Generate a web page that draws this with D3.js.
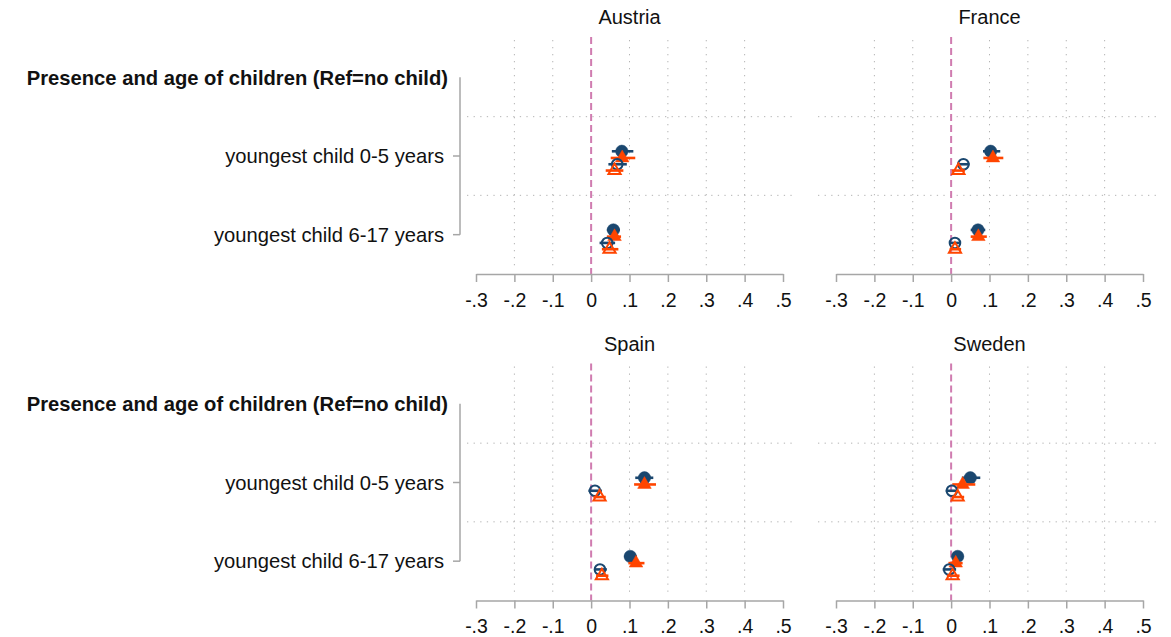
<!DOCTYPE html>
<html>
<head>
<meta charset="utf-8">
<script src="https://cdn.jsdelivr.net/npm/d3@7/dist/d3.min.js"></script>
<style>
  html, body { margin: 0; padding: 0; background: #fff; }
  svg { display: block; font-family: "Liberation Sans", Arial, Helvetica, sans-serif; }
</style>
</head>
<body>
<svg id="chart" width="1171" height="637"></svg>
<script>
// ---------- data ----------
const countries = ["Austria", "France", "Spain", "Sweden"];
const categories = ["Presence and age of children (Ref=no child)", "youngest child 0-5 years", "youngest child 6-17 years"];
const xTicks = [-0.3, -0.2, -0.1, 0, 0.1, 0.2, 0.3, 0.4, 0.5];
const xTickLabels = ["-.3", "-.2", "-.1", "0", ".1", ".2", ".3", ".4", ".5"];
const seriesNames = ["model 1", "model 2", "model 3", "model 4"];

// estimates [country][series] -> values for categories 1 and 2 (0-5, 6-17)
const est = {
  Austria: [[0.080, 0.058], [0.081, 0.061], [0.068, 0.042], [0.061, 0.048]],
  France:  [[0.103, 0.070], [0.109, 0.071], [0.032, 0.010], [0.019, 0.010]],
  Spain:   [[0.139, 0.102], [0.139, 0.117], [0.010, 0.023], [0.022, 0.028]],
  Sweden:  [[0.050, 0.017], [0.030, 0.012], [0.002, -0.005], [0.017, 0.004]]
};
const lo = {
  Austria: [[0.054, 0.041], [0.051, 0.041], [0.045, 0.022], [0.038, 0.028]],
  France:  [[0.083, 0.051], [0.084, 0.051], [0.017, -0.003], [0.002, -0.004]],
  Spain:   [[0.115, 0.086], [0.112, 0.097], [-0.007, 0.010], [0.006, 0.013]],
  Sweden:  [[0.028, 0.002], [0.003, -0.007], [-0.014, -0.022], [0.002, -0.011]]
};
const hi = {
  Austria: [[0.110, 0.075], [0.115, 0.078], [0.093, 0.0625], [0.084, 0.071]],
  France:  [[0.128, 0.089], [0.136, 0.093], [0.048, 0.023], [0.036, 0.026]],
  Spain:   [[0.162, 0.119], [0.169, 0.139], [0.028, 0.041], [0.038, 0.045]],
  Sweden:  [[0.076, 0.032], [0.063, 0.030], [0.019, 0.013], [0.034, 0.022]]
};

// ---------- styles ----------
const navy = "#1a476f", orange = "#ff4500";
const seriesStyle = [
  { color: navy,   shape: "circle",   filled: true,  offset: -0.06 },
  { color: orange, shape: "triangle", filled: true,  offset: 0.025 },
  { color: navy,   shape: "circle",   filled: false, offset: 0.105 },
  { color: orange, shape: "triangle", filled: false, offset: 0.185 }
];
const axisColor = "#a6a6a6", gridColor = "#b4b4b4", refColor = "#d07cb0";

const cols = [
  { axis: [476, 783], grid: [467, 795] },
  { axis: [836, 1143], grid: [818, 1156] }
];
const rowOffset = [0, 326.5];

const svg = d3.select("#chart");

countries.forEach((country, i) => {
  const col = cols[i % 2];
  const dy = rowOffset[Math.floor(i / 2)];
  const x = d3.scaleLinear().domain([-0.3, 0.5]).range(col.axis);
  const y = d3.scaleLinear().domain([-0.5, 2.5]).range([38 + dy, 274 + dy]);
  const g = svg.append("g");

  // title
  g.append("text")
    .attr("x", (col.axis[0] + col.axis[1]) / 2)
    .attr("y", 24 + dy)
    .attr("text-anchor", "middle")
    .attr("font-size", 20)
    .attr("fill", "#111")
    .text(country);

  // vertical grid
  g.selectAll(".vg").data(xTicks.filter(t => t !== 0 && t !== -0.3 && t !== 0.5))
    .enter().append("line")
    .attr("x1", d => x(d)).attr("x2", d => x(d))
    .attr("y1", 40 + dy).attr("y2", 268 + dy)
    .attr("stroke", gridColor).attr("stroke-width", 1)
    .attr("stroke-dasharray", "1.3,5.7");

  // horizontal grid
  g.selectAll(".hg").data([0.5, 1.5])
    .enter().append("line")
    .attr("x1", col.grid[0]).attr("x2", col.grid[1])
    .attr("y1", d => y(d)).attr("y2", d => y(d))
    .attr("stroke", gridColor).attr("stroke-width", 1)
    .attr("stroke-dasharray", "1.3,5.3");

  // reference line at 0
  g.append("line")
    .attr("x1", x(0)).attr("x2", x(0))
    .attr("y1", 37 + dy).attr("y2", 274 + dy)
    .attr("stroke", refColor).attr("stroke-width", 2)
    .attr("stroke-dasharray", "7,4");

  // x axis
  const xAxis = d3.axisBottom(x).tickValues(xTicks)
    .tickFormat((d, k) => xTickLabels[k]).tickSize(8).tickPadding(11).tickSizeOuter(0);
  const ax = g.append("g").attr("transform", `translate(0,${274 + dy})`).call(xAxis);
  ax.select(".domain").attr("stroke", axisColor).attr("stroke-width", 1.5);
  ax.selectAll(".tick line").attr("stroke", axisColor).attr("stroke-width", 1.5);
  ax.selectAll(".tick text").attr("font-size", 19.5).attr("fill", "#111")
    .attr("font-family", "Liberation Sans, Arial, sans-serif").attr("dy", "0.71em");

  // y axis (left column only)
  if (i % 2 === 0) {
    const yax = g.append("g");
    yax.append("line")
      .attr("x1", 460).attr("x2", 460)
      .attr("y1", y(0)).attr("y2", y(2))
      .attr("stroke", axisColor).attr("stroke-width", 1.5);
    yax.selectAll(".yt").data([1, 2]).enter().append("line")
      .attr("x1", 453).attr("x2", 460)
      .attr("y1", d => y(d)).attr("y2", d => y(d))
      .attr("stroke", axisColor).attr("stroke-width", 1.5);
    yax.selectAll(".yl").data(categories).enter().append("text")
      .attr("x", (d, k) => k === 0 ? 448 : 444)
      .attr("y", (d, k) => y(k))
      .attr("dy", "0.36em")
      .attr("text-anchor", "end")
      .attr("font-size", 20.2)
      .attr("font-weight", (d, k) => k === 0 ? "bold" : "normal")
      .attr("fill", "#111")
      .text(d => d);
  }

  // series
  seriesStyle.forEach((s, si) => {
    [1, 2].forEach((cat, ci) => {
      const cy = y(cat + s.offset);
      g.append("line")
        .attr("x1", x(lo[country][si][ci])).attr("x2", x(hi[country][si][ci]))
        .attr("y1", cy).attr("y2", cy)
        .attr("stroke", s.color).attr("stroke-width", 2.6);
      const cx = x(est[country][si][ci]);
      if (s.shape === "circle") {
        g.append("circle")
          .attr("cx", cx).attr("cy", cy)
          .attr("r", s.filled ? 6.2 : 5.3)
          .attr("fill", s.filled ? s.color : "none")
          .attr("stroke", s.color).attr("stroke-width", s.filled ? 0.5 : 2);
      } else {
        g.append("path")
          .attr("d", d3.symbol(d3.symbolTriangle, s.filled ? 80 : 64)())
          .attr("transform", `translate(${cx},${cy})`)
          .attr("fill", s.filled ? s.color : "none")
          .attr("stroke", s.color).attr("stroke-width", s.filled ? 0.5 : 2);
      }
    });
  });
});
</script>
</body>
</html>
